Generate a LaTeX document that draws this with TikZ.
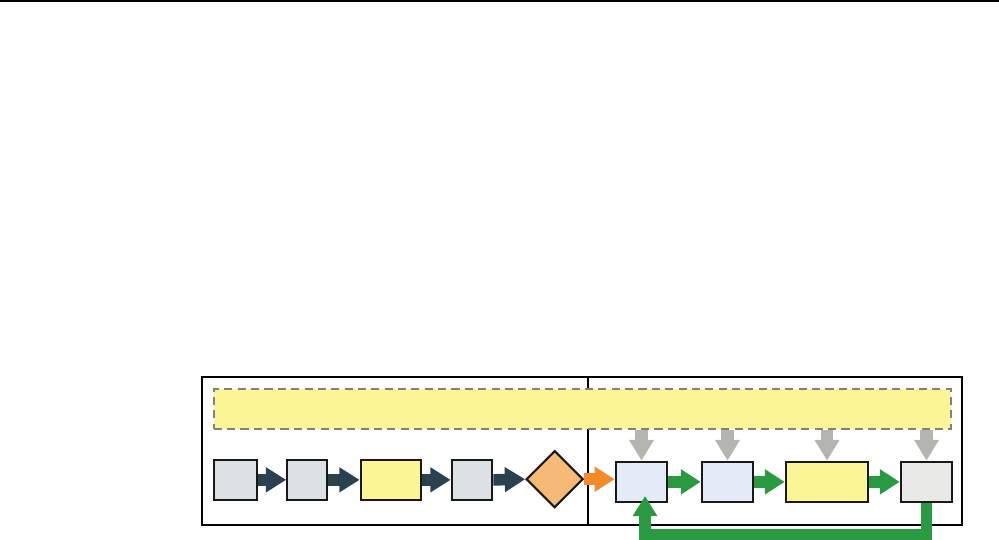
\documentclass[tikz,border=0pt]{standalone}
\usetikzlibrary{arrows.meta,shapes.geometric}
\definecolor{boxgray}{HTML}{DCE2E3}
\definecolor{boxblue}{HTML}{E2EBF6}
\definecolor{boxlight}{HTML}{E8E8E6}
\definecolor{paleyellow}{HTML}{FAF595}
\definecolor{paleorange}{HTML}{F6B976}
\definecolor{darkslate}{HTML}{2A4250}
\definecolor{flowgreen}{HTML}{2A9A42}
\definecolor{flowOrange}{HTML}{F28A27}
\definecolor{feedgray}{HTML}{B4B4B0}
\tikzset{
  blk/.style={draw=black!90, line width=0.6pt, inner sep=0pt, minimum height=4.03mm},
  darkarrow/.style={draw=darkslate, line width=3.3pt, -{Triangle[length=5.8pt,width=6.8pt]}, darkslate},
  greenarrow/.style={draw=flowgreen, line width=3.3pt, -{Triangle[length=5.6pt,width=6.8pt]}, flowgreen},
  orangearrow/.style={draw=flowOrange, line width=3.3pt, -{Triangle[length=5.7pt,width=6.8pt]}, flowOrange},
  grayarrow/.style={draw=feedgray, line width=3.6pt, -{Triangle[length=5.9pt,width=6.7pt]}, feedgray},
  fbarrow/.style={draw=flowgreen, line width=3.2pt, -{Triangle[length=5.7pt,width=6.6pt]}, flowgreen},
}
\begin{document}
\begin{tikzpicture}[x=0.1mm, y=-0.1mm]
    \useasboundingbox (0,0) rectangle (999,540);
    \draw[line width=0.45pt] (0,0.8) -- (999,0.8);
    % frames
    \draw[line width=0.6pt] (202.3,377.3) rectangle (588.3,525);
    \draw[line width=0.6pt] (588.3,377.3) rectangle (962.3,525);
    % dashed band
    \node[draw=gray, fill=paleyellow, dash pattern=on 2.3pt off 1.5pt, line width=0.6pt,
          inner sep=0pt, minimum width=73.73mm, minimum height=4mm] (band) at (582.35,409) {};
    % boxes, left half
    \node[blk, fill=boxgray, minimum width=4.36mm] (b1) at (235.5,479.85) {};
    \node[blk, fill=boxgray, minimum width=4.0mm] (b2) at (307.3,479.85) {};
    \node[blk, fill=paleyellow, minimum width=6.06mm] (b3) at (391,479.85) {};
    \node[blk, fill=boxgray, minimum width=4.06mm] (b4) at (472,479.85) {};
    \node[diamond, draw=black!90, line width=0.6pt, fill=paleorange, inner sep=0pt,
          minimum width=5.7mm, minimum height=5.7mm] (dec) at (554.7,479.2) {};
    % boxes, right half
    \node[blk, fill=boxblue, minimum width=5.16mm] (b5) at (641.5,481.85) {};
    \node[blk, fill=boxblue, minimum width=5.16mm] (b6) at (727.5,481.85) {};
    \node[blk, fill=paleyellow, minimum width=8.26mm] (b7) at (827,481.85) {};
    \node[blk, fill=boxlight, minimum width=5.16mm] (b8) at (926.5,481.85) {};
    % flow
    \draw[darkarrow] (b1.east |- 0,479.85) -- (b2.west);
    \draw[darkarrow] (b2.east) -- (b3.west);
    \draw[darkarrow] (b3.east) -- (b4.west);
    \draw[darkarrow] (b4.east) -- (dec.west);
    \draw[orangearrow] (dec.east) -- (b5.west |- dec.east);
    \draw[greenarrow] (b5.east) -- (b6.west);
    \draw[greenarrow] (b6.east) -- (b7.west);
    \draw[greenarrow] (b7.east) -- (b8.west);
    \foreach \b in {b5,b6,b7,b8}
        \draw[grayarrow] (\b.north |- band.south) -- (\b.north);
    % feedback
    \coordinate (fbtip) at (645,496);
    \draw[fbarrow] (b8.south) -- ++(0,31.8) -| (fbtip);
\end{tikzpicture}
\end{document}
